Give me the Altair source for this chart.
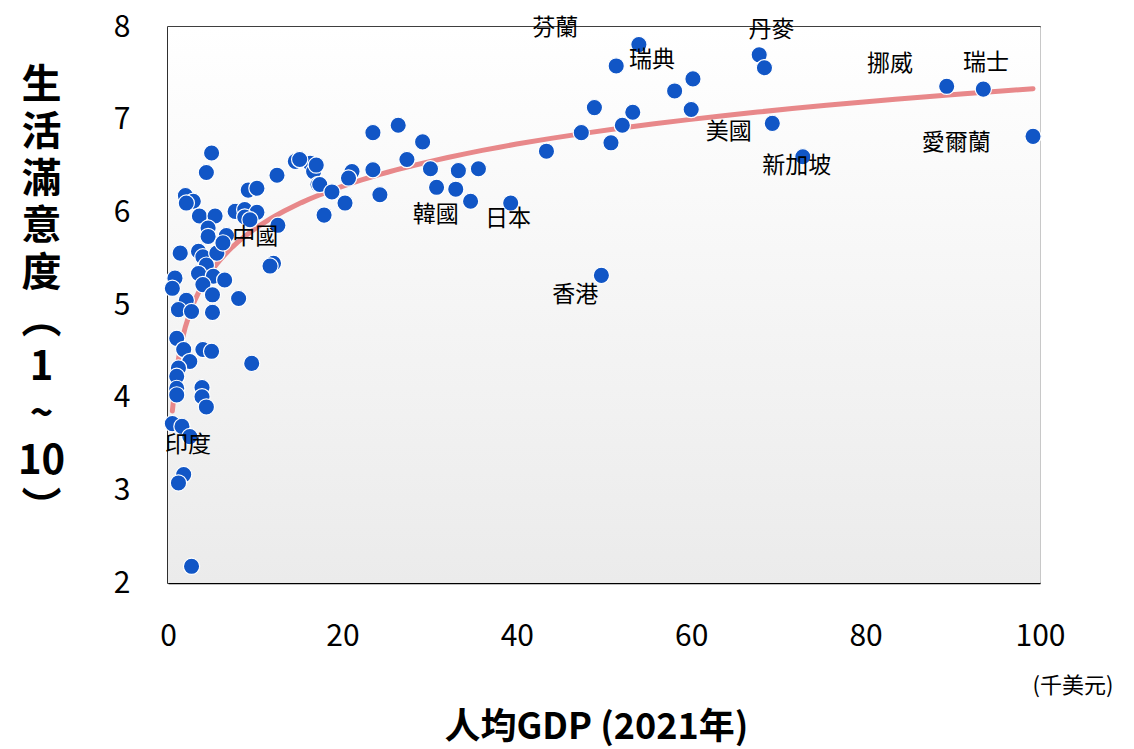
import altair as alt
import pandas as pd

# GDP per capita (thousand USD, 2021) and life satisfaction (1-10)
gdp = [5.0, 4.4, 2.0, 2.9, 2.1, 3.6, 5.4, 4.6, 4.6, 6.7, 7.7, 8.8, 9.2, 10.2, 10.2, 8.8,
       12.5, 14.6, 16.3, 16.7, 17.2, 12.6, 12.1, 11.7, 1.4, 3.5, 4.0, 5.6, 4.4, 3.5, 5.2,
       6.5, 0.8, 0.5, 4.0, 5.1, 8.1, 2.1, 1.2, 2.7, 5.1, 6.3, 9.4,
       1.0, 1.8, 2.5, 4.0, 5.0, 9.6, 1.2, 1.0, 1.0, 1.0, 3.9, 3.9, 4.4, 0.5, 1.6, 2.5,
       1.8, 1.2, 2.7,
       15.1, 17.0, 17.4, 18.8, 20.3, 17.9, 21.1, 20.7, 23.5, 23.5, 24.3, 26.4, 27.4, 29.2,
       30.1, 30.8, 33.3, 33.0, 35.6, 34.7, 39.3, 43.4,
       54.0, 51.4, 48.9, 47.4, 50.8, 52.1, 53.3, 58.1, 60.2, 60.0, 67.8, 68.4, 69.3, 72.8,
       49.7, 89.3, 93.5, 99.2]
ls = [6.64, 6.43, 6.18, 6.12, 6.10, 5.96, 5.96, 5.83, 5.74, 5.75, 6.01, 6.03, 6.24, 6.26, 6.00, 5.95,
      6.40, 6.55, 6.53, 6.44, 6.30, 5.86, 5.45, 5.42, 5.56, 5.58, 5.52, 5.56, 5.43, 5.34, 5.31,
      5.27, 5.29, 5.18, 5.22, 5.11, 5.07, 5.05, 4.95, 4.93, 4.92, 5.67, 5.92,
      4.64, 4.52, 4.39, 4.52, 4.50, 4.37, 4.32, 4.23, 4.10, 4.03, 4.11, 4.01, 3.90, 3.72, 3.69, 3.58,
      3.17, 3.08, 2.18,
      6.57, 6.51, 6.30, 6.22, 6.10, 5.97, 6.44, 6.37, 6.86, 6.46, 6.19, 6.94, 6.57, 6.76,
      6.47, 6.27, 6.45, 6.25, 6.47, 6.12, 6.10, 6.66,
      7.81, 7.58, 7.13, 6.86, 6.75, 6.94, 7.08, 7.31, 7.44, 7.11, 7.70, 7.56, 6.96, 6.60,
      5.32, 7.36, 7.33, 6.82]

# Country labels and where they sit (data coordinates)
label_names = ["芬蘭", "丹麥", "瑞典", "挪威", "瑞士", "美國", "新加坡", "愛爾蘭",
               "中國", "韓國", "日本", "香港", "印度"]
label_x = [44.4, 69.2, 55.5, 82.8, 93.8, 64.3, 72.1, 90.4, 10.0, 30.7, 39.0, 46.7, 2.3]
label_y = [7.99, 7.97, 7.64, 7.60, 7.61, 6.87, 6.50, 6.75, 5.73, 5.97, 5.93, 5.11, 3.49]

W, H = 872, 556
FONT = "Noto Sans CJK TC"

pts = pd.DataFrame({"gdp": gdp, "ls": ls})
labels = pd.DataFrame({"name": label_names, "x": label_x, "y": label_y})

xscale = alt.Scale(domain=[0, 100], nice=False, zero=False)
yscale = alt.Scale(domain=[2, 8], nice=False, zero=False)

bg = alt.Chart(pd.DataFrame({"a": [0]})).mark_rect(
    color=alt.Gradient(
        gradient="linear",
        stops=[alt.GradientStop(color="#ffffff", offset=0),
               alt.GradientStop(color="#ebebeb", offset=1)],
        x1=0, x2=0, y1=0, y2=1,
    )
).encode(x=alt.value(0), x2=alt.value(W), y=alt.value(0), y2=alt.value(H))

base = alt.Chart(pts)

points = base.mark_circle(
    size=265, color="#1156c6", opacity=1, stroke="white", strokeWidth=1.2
).encode(
    x=alt.X("gdp:Q", scale=xscale,
            axis=alt.Axis(values=[0, 20, 40, 60, 80, 100], format="d", title="人均GDP (2021年)",
                          titleFontSize=36, titleFontWeight="bold", titleFont=FONT,
                          titleY=144, titleBaseline="middle", titleX=W / 2 - 8,
                          labelFontSize=30, labelFont=FONT, labelPadding=38, labelFlush=False,
                          grid=True, gridColor="#c8c8c8", gridWidth=1,
                          ticks=False, domainColor="#000000", domainWidth=1.5,
                          labelColor="#000000", titleColor="#000000")),
    y=alt.Y("ls:Q", scale=yscale,
            axis=alt.Axis(values=[2, 3, 4, 5, 6, 7, 8], format="d",
                          title=["生", "活", "滿", "意", "度", "︵", "1", "~", "10", "︶"],
                          titleAngle=0, titleFontSize=40, titleFontWeight="bold", titleFont=FONT,
                          titleLineHeight=47, titleX=-127, titleY=58, titleAlign="center",
                          titleBaseline="middle",
                          labelFontSize=30, labelFont=FONT, labelPadding=38, labelFlush=False,
                          grid=True, gridColor="#c8c8c8", gridWidth=1,
                          ticks=False, domainColor="#000000", domainWidth=1.5,
                          labelColor="#000000", titleColor="#000000")),
)

trend = base.transform_regression("gdp", "ls", method="log").mark_line(
    color="#e8888a", strokeWidth=5, strokeCap="round"
).encode(x=alt.X("gdp:Q", scale=xscale), y=alt.Y("ls:Q", scale=yscale))

texts = alt.Chart(labels).mark_text(
    font=FONT, fontSize=23, color="#000000", align="center", baseline="middle"
).encode(x=alt.X("x:Q", scale=xscale), y=alt.Y("y:Q", scale=yscale), text="name:N")

unit = alt.Chart(pd.DataFrame({"t": ["(千美元)"]})).mark_text(
    font=FONT, fontSize=22, color="#000000", align="center", baseline="middle"
).encode(x=alt.value(905), y=alt.value(659), text="t:N")

chart = alt.layer(bg, trend, points, texts, unit).properties(
    width=W, height=H,
    autosize=alt.AutoSizeParams(type="none"),
    padding={"left": 160, "top": 19, "right": 86, "bottom": 164},
    background="white",
).configure_view(stroke="#000000", strokeWidth=1.5, clip=False)

chart.save("out.html", embed_options={"renderer": "svg", "actions": False})
